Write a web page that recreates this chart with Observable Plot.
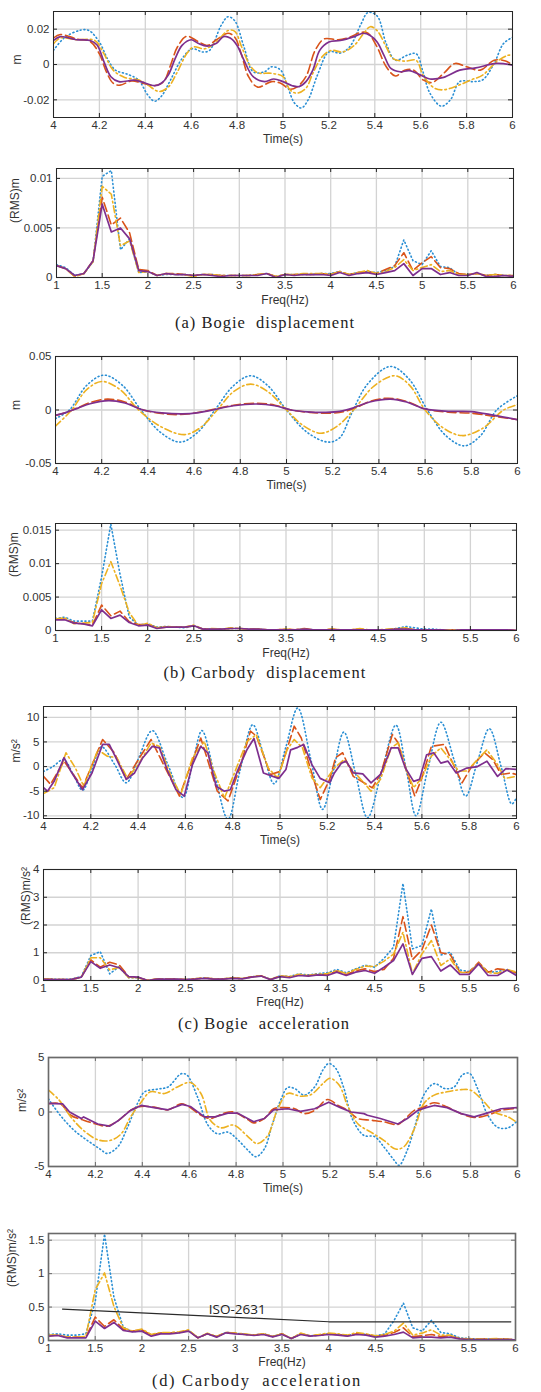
<!DOCTYPE html>
<html><head><meta charset="utf-8">
<script src="https://cdn.jsdelivr.net/npm/d3@7"></script>
<script src="https://cdn.jsdelivr.net/npm/@observablehq/plot@0.6"></script>
<style>
body{margin:0;background:#fff;}
#page{position:relative;width:541px;height:1392px;overflow:hidden;background:#fff;}
.cap{position:absolute;white-space:pre;font-family:"Liberation Serif","DejaVu Serif",serif;font-size:16.5px;line-height:20px;color:#222;}
</style></head><body><div id="page"></div>
<script>
// ---------- shared axes ----------
const freq = [1.0,1.1,1.2,1.3,1.4,1.5,1.6,1.7,1.8,1.9,2.0,2.1,2.2,2.3,2.4,2.5,2.6,2.7,2.8,2.9,3.0,3.1,3.2,3.3,3.4,3.5,3.6,3.7,3.8,3.9,4.0,4.1,4.2,4.3,4.4,4.5,4.6,4.7,4.8,4.9,5.0,5.1,5.2,5.3,5.4,5.5,5.6,5.7,5.8,5.9,6.0];
const timeTicks = [4,4.2,4.4,4.6,4.8,5,5.2,5.4,5.6,5.8,6];
const freqTicks = [1,1.5,2,2.5,3,3.5,4,4.5,5,5.5,6];
const p1Ticks = [-0.02,0,0.02];
const p2Ticks = [0,0.005,0.01];
const p3Ticks = [-0.05,0,0.05];
const p4Ticks = [0,0.005,0.01,0.015];
const p5Ticks = [-10,-5,0,5,10];
const p6Ticks = [0,1,2,3,4];
const p7Ticks = [-5,0,5];
const p8Ticks = [0,0.5,1,1.5];
const captions = ["(a) Bogie  displacement","(b) Carbody  displacement","(c) Bogie  acceleration","(d) Carbody  acceleration"];

// ---------- (a) bogie displacement: time [t, m] ----------
const p1Purple = [[4.00,0.0136],[4.03,0.0158],[4.10,0.014],[4.16,0.0136],[4.19,0.011],[4.22,0.0015],[4.25,-0.0069],[4.285,-0.0097],[4.35,-0.0089],[4.38,-0.0097],[4.44,-0.012],[4.47,-0.0106],[4.50,-0.006],[4.53,0.0033],[4.56,0.0108],[4.60,0.014],[4.63,0.012],[4.67,0.0104],[4.71,0.012],[4.74,0.0158],[4.77,0.015],[4.80,0.0108],[4.83,0.0024],[4.87,-0.0069],[4.92,-0.0097],[4.96,-0.0082],[5.00,-0.0097],[5.04,-0.012],[5.07,-0.0125],[5.10,-0.0097],[5.13,-0.0032],[5.16,0.008],[5.20,0.0127],[5.25,0.0136],[5.31,0.0158],[5.35,0.0177],[5.38,0.0164],[5.41,0.0127],[5.44,0.0052],[5.47,-0.0022],[5.51,-0.0041],[5.55,-0.0035],[5.60,-0.006],[5.64,-0.0082],[5.70,-0.0073],[5.77,-0.0032],[5.84,-0.0019],[5.93,0.0006],[6.00,-0.0004]];
const p1Red = [[4.00,0.015],[4.03,0.017],[4.10,0.0145],[4.16,0.013],[4.20,0.006],[4.23,-0.004],[4.26,-0.0106],[4.29,-0.0117],[4.34,-0.0093],[4.39,-0.0106],[4.44,-0.012],[4.48,-0.0097],[4.51,-0.0004],[4.54,0.0099],[4.58,0.016],[4.63,0.013],[4.67,0.0108],[4.71,0.014],[4.76,0.0177],[4.79,0.0154],[4.82,0.0052],[4.85,-0.0069],[4.89,-0.0128],[4.95,-0.0097],[4.99,-0.0106],[5.03,-0.014],[5.06,-0.0128],[5.10,-0.0069],[5.14,0.008],[5.18,0.0145],[5.24,0.014],[5.29,0.0154],[5.34,0.0182],[5.37,0.0177],[5.41,0.0099],[5.45,-0.0013],[5.49,-0.0065],[5.53,-0.0032],[5.57,-0.0032],[5.61,-0.0087],[5.65,-0.0102],[5.70,-0.005],[5.75,0.0006],[5.80,-0.0013],[5.86,-0.0032],[5.92,0.0024],[5.97,0.002],[6.00,-0.0004]];
const p1Yellow = [[4.00,0.0117],[4.03,0.015],[4.10,0.014],[4.18,0.0136],[4.22,0.006],[4.26,-0.0032],[4.31,-0.0073],[4.37,-0.0087],[4.41,-0.0115],[4.46,-0.0153],[4.50,-0.0128],[4.54,-0.0041],[4.58,0.006],[4.61,0.0099],[4.66,0.0089],[4.71,0.0127],[4.76,0.0192],[4.79,0.0188],[4.82,0.0099],[4.86,-0.0013],[4.89,-0.0047],[4.95,-0.005],[5.00,-0.0069],[5.03,-0.0143],[5.06,-0.0162],[5.10,-0.0134],[5.13,-0.005],[5.17,0.0043],[5.21,0.008],[5.26,0.0071],[5.31,0.0108],[5.35,0.0173],[5.38,0.0214],[5.41,0.0192],[5.45,0.0099],[5.48,0.0033],[5.53,0.0019],[5.58,0.0024],[5.61,-0.006],[5.66,-0.0134],[5.70,-0.0143],[5.76,-0.012],[5.82,-0.0087],[5.87,-0.006],[5.93,0.0015],[5.98,0.0052],[6.00,0.0052]];
const p1Blue = [[4.00,0.008],[4.05,0.0154],[4.12,0.0195],[4.155,0.0192],[4.20,0.0127],[4.235,0.0033],[4.27,-0.0032],[4.32,-0.0054],[4.37,-0.0087],[4.41,-0.0171],[4.44,-0.0208],[4.47,-0.018],[4.51,-0.0087],[4.56,0.0033],[4.605,0.0089],[4.65,0.0071],[4.68,0.008],[4.73,0.022],[4.76,0.027],[4.79,0.0247],[4.83,0.0099],[4.87,-0.0041],[4.92,-0.0041],[4.95,-0.0013],[4.99,-0.0032],[5.02,-0.0125],[5.05,-0.0218],[5.08,-0.0246],[5.11,-0.0199],[5.15,-0.006],[5.20,0.0071],[5.25,0.0065],[5.29,0.0099],[5.34,0.0229],[5.37,0.0294],[5.41,0.0275],[5.45,0.0117],[5.49,0.0024],[5.54,0.0052],[5.58,0.0061],[5.61,-0.0041],[5.64,-0.0162],[5.69,-0.0236],[5.73,-0.0199],[5.77,-0.0097],[5.83,-0.0097],[5.87,-0.0087],[5.92,0.0006],[5.96,0.0117],[6.00,0.0154]];

// ---------- (a) bogie displacement: RMS spectrum (values at freq) ----------
const p2Purple = [0.0012,0.0009,0.0002,0.0004,0.0017,0.0074,0.0046,0.0050,0.0039,0.0007, 0.0006,0.0002,0.0004,0.0003,0.0003,0.0002,0.0003,0.0002,0.0001,0.0002, 0.0002,0.0002,0.0002,0.0004,0.0000,0.0003,0.0002,0.0003,0.0003,0.0003, 0.0002,0.0005,0.0002,0.0004,0.0005,0.0003,0.0005,0.0007,0.0014,0.0002, 0.0009,0.0009,0.0003,0.0005,0.0002,0.0002,0.0005,0.0001,0.0001,0.0002, 0.0001];
const p2Red = [0.0012,0.0009,0.0001,0.0004,0.0017,0.0081,0.0053,0.0060,0.0045,0.0008, 0.0007,0.0002,0.0004,0.0004,0.0003,0.0002,0.0003,0.0003,0.0002,0.0002, 0.0002,0.0002,0.0003,0.0004,0.0001,0.0003,0.0003,0.0003,0.0003,0.0004, 0.0003,0.0006,0.0003,0.0005,0.0006,0.0004,0.0008,0.0012,0.0025,0.0007, 0.0015,0.0021,0.0010,0.0009,0.0004,0.0003,0.0004,0.0002,0.0003,0.0002, 0.0002];
const p2Yellow = [0.0012,0.0009,0.0001,0.0004,0.0016,0.0092,0.0084,0.0032,0.0037,0.0005, 0.0006,0.0002,0.0004,0.0003,0.0003,0.0001,0.0003,0.0003,0.0002,0.0002, 0.0002,0.0002,0.0003,0.0004,0.0001,0.0003,0.0003,0.0004,0.0004,0.0004, 0.0003,0.0006,0.0003,0.0005,0.0007,0.0004,0.0006,0.0010,0.0018,0.0007, 0.0010,0.0013,0.0006,0.0007,0.0003,0.0003,0.0004,0.0002,0.0003,0.0002, 0.0002];
const p2Blue = [0.0013,0.0010,0.0002,0.0004,0.0016,0.0102,0.0108,0.0028,0.0039,0.0005, 0.0006,0.0002,0.0003,0.0003,0.0003,0.0002,0.0003,0.0003,0.0002,0.0002, 0.0002,0.0002,0.0003,0.0004,0.0001,0.0003,0.0003,0.0003,0.0003,0.0004, 0.0004,0.0006,0.0003,0.0005,0.0006,0.0005,0.0007,0.0011,0.0038,0.0017, 0.0013,0.0027,0.0011,0.0010,0.0003,0.0003,0.0004,0.0002,0.0003,0.0002, 0.0002];

// ---------- (b) carbody displacement: time ----------
const p3Blue = [[4.00,-0.008],[4.06,0],[4.135,0.023],[4.21,0.0326],[4.29,0.023],[4.37,0],[4.455,-0.021],[4.54,-0.030],[4.615,-0.021],[4.69,0],[4.77,0.0226],[4.845,0.032],[4.92,0.0226],[5.00,0],[5.09,-0.021],[5.18,-0.030],[5.23,-0.026],[5.28,-0.004],[5.35,0.024],[5.45,0.0407],[5.53,0.029],[5.61,0],[5.69,-0.024],[5.77,-0.0335],[5.84,-0.024],[5.91,0],[6.00,0.0134]];
const p3Yellow = [[4.00,-0.015],[4.07,0],[4.135,0.019],[4.20,0.0267],[4.28,0.019],[4.36,0],[4.46,-0.016],[4.56,-0.023],[4.63,-0.016],[4.70,0],[4.77,0.017],[4.845,0.0242],[4.92,0.017],[5.00,0],[5.075,-0.015],[5.15,-0.0217],[5.22,-0.015],[5.29,0],[5.38,0.0226],[5.47,0.032],[5.535,0.0226],[5.60,0],[5.68,-0.017],[5.76,-0.0239],[5.85,-0.017],[5.94,0],[6.00,0.005]];
const p3Red = [[4.00,-0.005],[4.05,-0.002],[4.10,0.0025],[4.15,0.007],[4.225,0.0102],[4.30,0.0075],[4.38,0],[4.46,-0.0032],[4.53,-0.0043],[4.60,-0.003],[4.67,0],[4.77,0.0045],[4.87,0.0062],[4.95,0.0045],[5.02,0],[5.10,-0.0022],[5.19,-0.003],[5.25,-0.0015],[5.30,0.002],[5.36,0.008],[5.44,0.011],[5.52,0.008],[5.60,0.001],[5.70,-0.002],[5.80,-0.003],[5.90,-0.006],[6.00,-0.009]];
const p3Purple = [[4.00,-0.005],[4.05,-0.002],[4.10,0.002],[4.15,0.0058],[4.23,0.0087],[4.30,0.0065],[4.38,0],[4.46,-0.0027],[4.55,-0.0037],[4.62,-0.0025],[4.68,0],[4.77,0.004],[4.87,0.0056],[4.95,0.004],[5.02,0],[5.09,-0.0017],[5.17,-0.0022],[5.23,-0.0013],[5.29,0.002],[5.36,0.0075],[5.45,0.0102],[5.52,0.0075],[5.60,0.001],[5.70,-0.0012],[5.80,-0.0015],[5.90,-0.005],[6.00,-0.009]];

// ---------- (b) carbody displacement: RMS spectrum ----------
const p4Purple = [0.0016,0.0016,0.0011,0.0010,0.0007,0.0031,0.0018,0.0023,0.0012,0.0007, 0.0008,0.0003,0.0005,0.0005,0.0005,0.0007,0.0002,0.0002,0.0002,0.0003, 0.0003,0.0002,0.0002,0.0001,0.0001,0.0001,0.0001,0.0002,0.0001,0.0001, 0.0001,0.0001,0.0001,0.0001,0.0001,0.0001,0.0001,0.0002,0.0002,0.0001, 0.0001,0.0001,0.0001,0.0000,0.0001,0.0001,0.0001,0.0001,0.0001,0.0001, 0.0000];
const p4Red = [0.0017,0.0017,0.0012,0.0010,0.0008,0.0038,0.0022,0.0029,0.0013,0.0009, 0.0009,0.0004,0.0005,0.0005,0.0005,0.0007,0.0002,0.0002,0.0002,0.0003, 0.0003,0.0002,0.0002,0.0001,0.0001,0.0002,0.0001,0.0003,0.0001,0.0001, 0.0002,0.0001,0.0001,0.0002,0.0001,0.0001,0.0001,0.0002,0.0003,0.0001, 0.0001,0.0001,0.0001,0.0001,0.0001,0.0001,0.0001,0.0001,0.0001,0.0001, 0.0000];
const p4Yellow = [0.0017,0.0019,0.0010,0.0011,0.0012,0.0070,0.0103,0.0067,0.0027,0.0007, 0.0011,0.0004,0.0006,0.0005,0.0005,0.0008,0.0002,0.0003,0.0002,0.0004, 0.0003,0.0002,0.0002,0.0001,0.0001,0.0002,0.0001,0.0002,0.0001,0.0001, 0.0002,0.0001,0.0001,0.0003,0.0001,0.0001,0.0002,0.0003,0.0004,0.0001, 0.0001,0.0001,0.0001,0.0001,0.0001,0.0001,0.0001,0.0001,0.0001,0.0001, 0.0000];
const p4Blue = [0.0018,0.0020,0.0014,0.0014,0.0014,0.0080,0.0159,0.0084,0.0020,0.0008, 0.0010,0.0005,0.0006,0.0005,0.0004,0.0007,0.0002,0.0002,0.0002,0.0003, 0.0003,0.0002,0.0002,0.0001,0.0001,0.0001,0.0001,0.0002,0.0001,0.0001, 0.0001,0.0001,0.0001,0.0001,0.0001,0.0001,0.0001,0.0003,0.0006,0.0004, 0.0002,0.0002,0.0001,0.0001,0.0001,0.0001,0.0001,0.0001,0.0001,0.0001, 0.0000];

// ---------- (c) bogie acceleration: time ----------
const p5Blue = [[4.000,-1.0],[4.040,0.0],[4.085,1.4],[4.125,-1.5],[4.165,-4.8],[4.205,-0.5],[4.245,4.0],[4.300,0.5],[4.350,-3.3],[4.400,1.5],[4.460,7.3],[4.525,0.5],[4.590,-6.3],[4.630,0.5],[4.670,7.3],[4.725,-2.0],[4.780,-10.7],[4.830,-1.0],[4.885,8.5],[4.930,2.5],[4.975,-3.5],[5.025,4.0],[5.075,11.9],[5.130,1.5],[5.180,-8.7],[5.225,-1.0],[5.270,7.0],[5.320,-1.5],[5.370,-10.4],[5.430,-1.0],[5.490,8.4],[5.535,-1.0],[5.575,-10.0],[5.625,-0.5],[5.680,9.0],[5.735,1.5],[5.785,-6.0],[5.835,1.0],[5.885,7.7],[5.935,0.0],[5.980,-7.6],[6.000,-6.3]];
const p5Red = [[4.000,-2.0],[4.030,-3.6],[4.087,1.1],[4.165,-4.3],[4.250,5.5],[4.300,2.8],[4.350,-2.6],[4.410,2.1],[4.455,5.5],[4.490,2.1],[4.575,-6.0],[4.665,5.8],[4.735,-5.0],[4.780,-7.0],[4.830,-0.3],[4.875,7.2],[4.900,6.2],[4.960,-1.6],[5.000,-1.0],[5.060,8.2],[5.090,5.8],[5.145,-3.0],[5.170,-6.7],[5.210,-2.6],[5.235,1.8],[5.265,2.8],[5.310,-2.0],[5.355,-3.3],[5.390,-4.3],[5.425,-1.6],[5.475,6.5],[5.500,4.8],[5.540,-1.6],[5.570,-6.0],[5.600,-2.3],[5.640,4.1],[5.695,4.5],[5.740,-0.3],[5.770,-3.3],[5.810,0.0],[5.865,2.8],[5.900,1.4],[5.935,-1.6],[5.975,-1.3],[6.000,-1.6]];
const p5Yellow = [[4.000,-5.5],[4.045,-4.3],[4.095,2.8],[4.135,-0.3],[4.170,-4.0],[4.230,3.4],[4.270,2.1],[4.310,1.8],[4.355,-2.4],[4.400,0.4],[4.455,4.8],[4.490,4.1],[4.540,-2.0],[4.580,-5.7],[4.630,1.8],[4.680,5.1],[4.720,-0.9],[4.765,-6.4],[4.805,-1.6],[4.860,5.1],[4.900,6.5],[4.950,-0.3],[4.990,-2.3],[5.030,3.4],[5.060,5.5],[5.095,3.8],[5.135,-2.3],[5.170,-4.3],[5.230,-0.3],[5.270,1.4],[5.310,-0.9],[5.355,-3.3],[5.385,-5.0],[5.425,-2.6],[5.470,3.8],[5.500,4.8],[5.530,-0.3],[5.565,-4.3],[5.600,-2.3],[5.640,2.1],[5.680,3.8],[5.720,1.4],[5.755,-0.9],[5.790,-0.9],[5.835,1.4],[5.875,3.4],[5.920,0.4],[5.950,-2.4],[6.000,-2.0]];
const p5Purple = [[4.000,-4.3],[4.017,-5.0],[4.045,-3.0],[4.087,1.8],[4.115,-0.9],[4.165,-4.7],[4.205,-1.3],[4.250,4.5],[4.278,4.5],[4.310,1.4],[4.350,-2.6],[4.385,-1.3],[4.420,1.8],[4.460,4.1],[4.490,3.8],[4.525,-0.9],[4.560,-4.7],[4.595,-6.0],[4.630,0.4],[4.665,4.1],[4.695,2.8],[4.730,-4.0],[4.765,-5.0],[4.790,-4.7],[4.820,-0.9],[4.860,3.4],[4.890,5.7],[4.930,-1.3],[4.970,-2.0],[4.995,-2.4],[5.025,-0.6],[5.045,3.4],[5.075,3.9],[5.100,4.5],[5.135,0.4],[5.170,-2.4],[5.210,-3.3],[5.230,-1.3],[5.260,0.7],[5.280,1.1],[5.310,-1.3],[5.350,-1.5],[5.385,-3.3],[5.425,-1.6],[5.470,3.8],[5.500,3.8],[5.530,-0.3],[5.565,-3.0],[5.590,-2.6],[5.620,2.4],[5.650,2.8],[5.680,0.7],[5.710,1.1],[5.745,-1.3],[5.790,-0.3],[5.835,0.0],[5.875,1.1],[5.920,-2.0],[5.955,-0.4],[6.000,-0.6]];

// ---------- (c) bogie acceleration: RMS spectrum ----------
const p6Purple = [0.04,0.03,0.03,0.04,0.12,0.68,0.44,0.56,0.46,0.14, 0.12,0.00,0.05,0.05,0.05,0.03,0.05,0.08,0.05,0.05, 0.08,0.06,0.12,0.16,0.03,0.14,0.10,0.18,0.16,0.20, 0.18,0.30,0.18,0.30,0.36,0.26,0.48,0.72,1.32,0.22, 0.80,0.86,0.34,0.56,0.22,0.22,0.60,0.18,0.18,0.38, 0.18];
const p6Red = [0.05,0.04,0.03,0.04,0.12,0.74,0.48,0.66,0.56,0.14, 0.10,0.01,0.05,0.05,0.05,0.03,0.06,0.09,0.06,0.06, 0.09,0.07,0.13,0.17,0.04,0.16,0.13,0.20,0.18,0.22, 0.20,0.34,0.22,0.35,0.42,0.32,0.40,0.80,2.30,0.75, 1.10,2.00,1.00,0.93,0.30,0.30,0.66,0.30,0.42,0.38, 0.28];
const p6Yellow = [0.05,0.04,0.03,0.04,0.12,0.82,0.82,0.38,0.48,0.10, 0.10,0.01,0.05,0.05,0.05,0.03,0.06,0.09,0.06,0.06, 0.09,0.07,0.13,0.17,0.04,0.16,0.14,0.22,0.18,0.23, 0.25,0.36,0.25,0.40,0.52,0.50,0.70,0.95,1.74,0.24, 0.96,1.44,0.54,0.78,0.30,0.28,0.62,0.28,0.26,0.40, 0.30];
const p6Blue = [0.06,0.05,0.04,0.05,0.14,0.90,1.04,0.24,0.50,0.10, 0.10,0.01,0.05,0.05,0.05,0.03,0.06,0.09,0.06,0.06, 0.09,0.07,0.13,0.17,0.04,0.17,0.14,0.24,0.20,0.25, 0.28,0.40,0.28,0.42,0.55,0.48,0.80,1.20,3.50,1.14, 1.26,2.58,0.92,1.02,0.38,0.32,0.60,0.30,0.32,0.40, 0.25];

// ---------- (d) carbody acceleration: time ----------
const p7Blue = [[4.000,1.2],[4.050,-0.3],[4.110,-1.7],[4.165,-2.6],[4.220,-3.4],[4.250,-3.8],[4.295,-3.2],[4.335,-1.5],[4.380,0.8],[4.410,1.85],[4.465,2.1],[4.510,2.3],[4.565,3.5],[4.590,3.4],[4.635,1.4],[4.680,-1.2],[4.720,-2.0],[4.765,-1.85],[4.805,-2.5],[4.850,-3.5],[4.885,-4.1],[4.920,-3.4],[4.955,-1.1],[4.990,1.1],[5.020,2.25],[5.050,2.15],[5.090,1.55],[5.135,2.3],[5.170,3.85],[5.195,4.45],[5.225,4.0],[5.260,2.15],[5.295,-0.6],[5.345,-2.15],[5.390,-2.25],[5.430,-3.2],[5.475,-4.45],[5.495,-4.9],[5.530,-3.5],[5.565,-1.1],[5.600,1.55],[5.645,2.6],[5.690,2.15],[5.730,2.3],[5.765,3.4],[5.795,3.55],[5.830,2.15],[5.870,-0.15],[5.915,-1.4],[5.960,-1.45],[6.000,-0.8]];
const p7Yellow = [[4.000,2.0],[4.045,1.1],[4.095,-0.45],[4.150,-1.7],[4.210,-2.55],[4.265,-2.6],[4.310,-2.0],[4.350,-0.45],[4.395,0.9],[4.435,1.85],[4.495,1.7],[4.550,2.3],[4.605,2.7],[4.650,1.7],[4.690,-0.75],[4.735,-1.45],[4.790,-1.2],[4.850,-2.25],[4.890,-2.9],[4.935,-2.15],[4.975,0.15],[5.020,1.7],[5.075,1.45],[5.120,1.6],[5.170,2.6],[5.200,3.1],[5.240,2.45],[5.275,0.6],[5.320,-1.1],[5.375,-1.85],[5.430,-2.6],[5.480,-3.4],[5.515,-3.2],[5.560,-1.55],[5.600,0.75],[5.645,1.55],[5.700,1.85],[5.760,2.05],[5.800,2.0],[5.850,1.1],[5.900,0.0],[5.960,-0.45],[6.000,-1.0]];
const p7Red = [[4.000,0.75],[4.050,0.75],[4.095,-0.3],[4.150,-0.75],[4.210,-1.15],[4.250,-1.3],[4.300,-0.75],[4.350,0.15],[4.395,0.5],[4.450,0.45],[4.510,0.2],[4.565,0.75],[4.590,0.6],[4.650,-0.3],[4.690,-0.6],[4.750,-0.1],[4.790,0.0],[4.850,-0.7],[4.875,-1.0],[4.920,-0.6],[4.960,0.3],[5.005,0.4],[5.050,0.3],[5.090,-0.15],[5.135,0.15],[5.190,1.15],[5.235,0.6],[5.275,0.15],[5.320,-0.6],[5.375,-0.75],[5.430,-0.9],[5.490,-1.15],[5.515,-0.75],[5.560,0.15],[5.600,0.45],[5.645,0.85],[5.700,0.45],[5.760,-0.15],[5.815,-0.5],[5.870,-0.3],[5.930,0.15],[6.000,0.35]];
const p7Purple = [[4.000,0.8],[4.060,0.75],[4.090,0.0],[4.140,-0.6],[4.150,-0.45],[4.210,-1.1],[4.260,-1.3],[4.300,-0.75],[4.350,0.15],[4.395,0.6],[4.450,0.4],[4.510,0.2],[4.570,0.7],[4.605,0.5],[4.665,-0.45],[4.710,-0.45],[4.765,-0.1],[4.805,-0.1],[4.875,-0.9],[4.920,-0.6],[4.960,0.2],[5.020,0.3],[5.075,0.05],[5.135,0.3],[5.195,0.9],[5.245,0.4],[5.290,0.0],[5.345,-0.15],[5.360,-0.3],[5.415,-0.6],[5.490,-1.1],[5.530,-0.6],[5.575,0.15],[5.610,0.4],[5.645,0.6],[5.700,0.4],[5.760,-0.15],[5.815,-0.45],[5.870,-0.1],[5.930,0.3],[6.000,0.4]];

// ---------- (d) carbody acceleration: RMS spectrum ----------
const p8Purple = [0.065,0.075,0.04,0.04,0.04,0.29,0.18,0.27,0.15,0.13, 0.14,0.065,0.10,0.10,0.115,0.14,0.04,0.10,0.05,0.115, 0.10,0.09,0.075,0.09,0.055,0.09,0.03,0.09,0.065,0.075, 0.09,0.08,0.065,0.09,0.08,0.05,0.065,0.09,0.125,0.04, 0.05,0.05,0.04,0.05,0.025,0.015,0.015,0.015,0.015,0.015, 0.01];
const p8Red = [0.07,0.08,0.05,0.05,0.05,0.35,0.21,0.31,0.17,0.14, 0.16,0.08,0.11,0.11,0.12,0.15,0.04,0.10,0.06,0.12, 0.11,0.09,0.08,0.10,0.06,0.10,0.03,0.10,0.07,0.08, 0.10,0.09,0.07,0.10,0.09,0.06,0.08,0.12,0.19,0.06, 0.07,0.09,0.06,0.07,0.03,0.02,0.02,0.02,0.02,0.02, 0.01];
const p8Yellow = [0.08,0.08,0.05,0.05,0.06,0.76,1.01,0.51,0.19,0.14, 0.17,0.09,0.12,0.12,0.13,0.16,0.04,0.11,0.06,0.12, 0.11,0.10,0.08,0.10,0.06,0.10,0.03,0.11,0.07,0.09, 0.11,0.10,0.08,0.12,0.10,0.07,0.09,0.14,0.26,0.08, 0.11,0.16,0.08,0.08,0.03,0.025,0.02,0.025,0.03,0.02, 0.01];
const p8Blue = [0.09,0.10,0.08,0.08,0.10,0.58,1.59,0.65,0.20,0.13, 0.15,0.08,0.11,0.11,0.12,0.15,0.04,0.10,0.06,0.12, 0.11,0.09,0.08,0.10,0.06,0.10,0.03,0.10,0.07,0.08, 0.10,0.09,0.08,0.10,0.09,0.07,0.10,0.30,0.56,0.19, 0.14,0.30,0.12,0.10,0.04,0.03,0.02,0.02,0.02,0.02, 0.01];
const isoFreq = [1.15, 4.0, 5.95];
const isoLimit = [0.47, 0.28, 0.28];
const isoLabel = [{f: 3.02, v: 0.455, text: "ISO-2631"}];

// ---------- styles ----------
const STY = {
  blue:   {stroke:"#2a8fd4", strokeWidth:1.6, strokeDasharray:"1,2.8"},
  red:    {stroke:"#d95319", strokeWidth:1.6, strokeDasharray:"9,4"},
  yellow: {stroke:"#edb120", strokeWidth:1.6, strokeDasharray:"7,3,1.6,3"},
  purple: {stroke:"#7e2f8e", strokeWidth:1.7}
};
const ORDER = ["blue","red","yellow","purple"];
function pairLines(s, curves) {
  return ORDER.map(k => Plot.line(s[k], {x: d => d[0], y: d => d[1], clip: true, curve: curves[k] || "catmull-rom", ...STY[k]}));
}
function freqLines(s) {
  return ORDER.map(k => Plot.line(s[k], {x: (d, i) => freq[i], y: d => d, clip: true, ...STY[k]}));
}

const page = document.getElementById("page");
function panel(o) {
  const W = 541, mt = 8, mb = 40;
  const h = o.B - o.T, w = o.R - o.L;
  const gridC = "#d3d3d3";
  const tickC = o.frame || "#262626";
  const marks = [
    Plot.ruleX(o.xTicks, {stroke: gridC, strokeWidth: 1.3}),
    Plot.ruleY(o.yTicks, {stroke: gridC, strokeWidth: 1.3}),
    ...o.lines,
    ...(o.extra || []),
    Plot.ruleX(o.xTicks, {stroke: tickC, insetBottom: h - 4}),
    Plot.ruleX(o.xTicks, {stroke: tickC, insetTop: h - 4}),
    Plot.ruleY(o.yTicks, {stroke: tickC, insetRight: w - 4}),
    Plot.ruleY(o.yTicks, {stroke: tickC, insetLeft: w - 4}),
    Plot.frame({stroke: o.frame || "#262626", strokeWidth: o.frameW || 1}),
    Plot.axisX({ticks: o.xTicks, tickSize: 0, tickPadding: 3, tickFormat: d => String(d), label: null, fontSize: 11.5, fill: "#333"}),
    Plot.axisY({ticks: o.yTicks, tickSize: 0, tickPadding: 4, tickFormat: d => String(d), label: null, fontSize: 11.5, fill: "#333"}),
    Plot.text([o.xLabel], {text: d => d, frameAnchor: "bottom", dy: o.xLabelDy, fontSize: 12, fill: "#333"}),
    Plot.text([o.yLabel], {text: d => d, frameAnchor: "left", dx: o.yLabelX - o.L, rotate: -90, fontSize: 12, fill: "#333"})
  ];
  const svg = Plot.plot({
    width: W, height: h + mt + mb,
    marginTop: mt, marginBottom: mb, marginLeft: o.L, marginRight: W - o.R,
    x: {domain: o.xDomain}, y: {domain: o.yDomain},
    style: {fontFamily: "'Liberation Sans', Arial, sans-serif", fontSize: "11.5px", background: "transparent", overflow: "visible", color: "#333"},
    marks
  });
  svg.style.position = "absolute";
  svg.style.left = "0px";
  svg.style.top = (o.T - mt) + "px";
  page.append(svg);
}
function caption(text, cx, cy, targetW) {
  const s = document.createElement("span");
  s.className = "cap";
  s.textContent = text;
  page.append(s);
  const nat = s.getBoundingClientRect().width;
  const ls = (targetW - nat) / text.length;
  s.style.letterSpacing = ls + "px";
  s.style.left = (cx - targetW / 2) + "px";
  s.style.top = (cy - 10) + "px";
}

panel({T: 11, B: 117, L: 53, R: 512, xDomain: [4, 6], yDomain: [-0.03, 0.03], xTicks: timeTicks, yTicks: p1Ticks,
  xLabel: "Time(s)", xLabelDy: 25, yLabel: "m", yLabelX: 17,
  lines: pairLines({blue: p1Blue, red: p1Red, yellow: p1Yellow, purple: p1Purple}, {})});
panel({T: 168, B: 277, L: 56, R: 513, xDomain: [1, 6], yDomain: [0, 0.011], xTicks: freqTicks, yTicks: p2Ticks,
  xLabel: "Freq(Hz)", xLabelDy: 26, yLabel: "(RMS)m", yLabelX: 15,
  lines: freqLines({blue: p2Blue, red: p2Red, yellow: p2Yellow, purple: p2Purple})});
panel({T: 356, B: 463, L: 55, R: 517, xDomain: [4, 6], yDomain: [-0.05, 0.05], xTicks: timeTicks, yTicks: p3Ticks,
  xLabel: "Time(s)", xLabelDy: 25, yLabel: "m", yLabelX: 16,
  lines: pairLines({blue: p3Blue, red: p3Red, yellow: p3Yellow, purple: p3Purple}, {})});
panel({T: 523, B: 630, L: 55, R: 516, xDomain: [1, 6], yDomain: [0, 0.016], xTicks: freqTicks, yTicks: p4Ticks,
  xLabel: "Freq(Hz)", xLabelDy: 26, yLabel: "(RMS)m", yLabelX: 14,
  lines: freqLines({blue: p4Blue, red: p4Red, yellow: p4Yellow, purple: p4Purple})});
panel({T: 706, B: 818, L: 43, R: 516, xDomain: [4, 6], yDomain: [-10.55, 12.2], xTicks: timeTicks, yTicks: p5Ticks,
  xLabel: "Time(s)", xLabelDy: 25, yLabel: "m/s²", yLabelX: 16,
  lines: pairLines({blue: p5Blue, red: p5Red, yellow: p5Yellow, purple: p5Purple}, {purple: "linear", red: "linear", yellow: "linear"})});
panel({T: 869, B: 980, L: 43, R: 516, xDomain: [1, 6], yDomain: [0, 4], xTicks: freqTicks, yTicks: p6Ticks,
  xLabel: "Freq(Hz)", xLabelDy: 25, yLabel: "(RMS)m/s²", yLabelX: 26,
  lines: freqLines({blue: p6Blue, red: p6Red, yellow: p6Yellow, purple: p6Purple})});
panel({T: 1057, B: 1166, L: 48, R: 517, xDomain: [4, 6], yDomain: [-5, 5], xTicks: timeTicks, yTicks: p7Ticks,
  xLabel: "Time(s)", xLabelDy: 25, yLabel: "m/s²", yLabelX: 22, frame: "#6a6a6a", frameW: 1.6,
  lines: pairLines({blue: p7Blue, red: p7Red, yellow: p7Yellow, purple: p7Purple}, {purple: "linear"})});
panel({T: 1233, B: 1340, L: 48, R: 515, xDomain: [1, 6], yDomain: [0, 1.6], xTicks: freqTicks, yTicks: p8Ticks,
  xLabel: "Freq(Hz)", xLabelDy: 25, yLabel: "(RMS)m/s²", yLabelX: 12, frame: "#6a6a6a", frameW: 1.6,
  lines: freqLines({blue: p8Blue, red: p8Red, yellow: p8Yellow, purple: p8Purple}),
  extra: [
    Plot.line(isoFreq, {x: d => d, y: (d, i) => isoLimit[i], stroke: "#2b2b2b", strokeWidth: 1.2}),
    Plot.text(isoLabel, {x: "f", y: "v", text: "text", fontSize: 13.5, fill: "#222", fontFamily: "'Open Sans', 'Liberation Sans', sans-serif"})
  ]});

caption(captions[0], 265, 323, 180);
caption(captions[1], 265, 673, 203);
caption(captions[2], 264, 1024, 172);
caption(captions[3], 257, 1381, 210);
</script></body></html>
